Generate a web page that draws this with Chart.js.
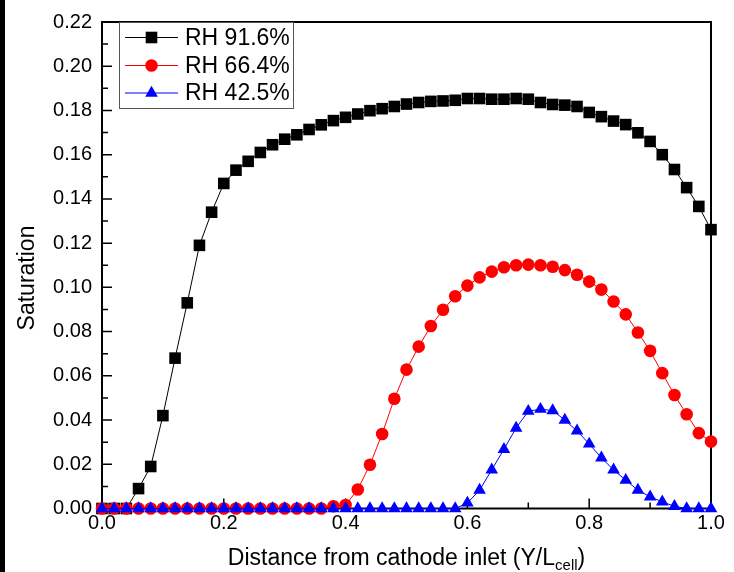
<!DOCTYPE html>
<html>
<head>
<meta charset="utf-8">
<script src="https://cdn.jsdelivr.net/npm/chart.js@4.4.1/dist/chart.umd.min.js"></script>
<style>
  html, body { margin: 0; padding: 0; background: #fff; }
  #wrap { position: relative; width: 734px; height: 572px; }
  #stripe { position: absolute; left: 0; top: 0; width: 5px; height: 572px; background: #000; }
</style>
</head>
<body>
<div id="wrap">
  <canvas id="chart" width="734" height="572"></canvas>
  <div id="stripe"></div>
</div>
<script>
// positions along the cell (Y/L_cell)
const xPos = [0.00, 0.02, 0.04, 0.06, 0.08, 0.10, 0.12, 0.14, 0.16, 0.18,
  0.20, 0.22, 0.24, 0.26, 0.28, 0.30, 0.32, 0.34, 0.36, 0.38,
  0.40, 0.42, 0.44, 0.46, 0.48, 0.50, 0.52, 0.54, 0.56, 0.58,
  0.60, 0.62, 0.64, 0.66, 0.68, 0.70, 0.72, 0.74, 0.76, 0.78,
  0.80, 0.82, 0.84, 0.86, 0.88, 0.90, 0.92, 0.94, 0.96, 0.98, 1.00];

const rh916 = [0, 0, 0, 0.009, 0.019, 0.042, 0.068, 0.093, 0.119, 0.134,
  0.147, 0.153, 0.157, 0.161, 0.1645, 0.167, 0.169, 0.1714, 0.1735, 0.1754,
  0.1769, 0.1784, 0.1799, 0.1808, 0.1818, 0.1829, 0.1836, 0.1841, 0.1843, 0.1846,
  0.1854, 0.1854, 0.1851, 0.1851, 0.1854, 0.1851, 0.1836, 0.1827, 0.1824, 0.1818,
  0.1791, 0.1772, 0.1752, 0.1736, 0.1699, 0.166, 0.16, 0.1533, 0.1451, 0.1366, 0.1261];

const rh664 = [0, 0, 0, 0, 0, 0, 0, 0, 0, 0,
  0, 0, 0, 0, 0, 0, 0, 0, 0, 0.001,
  0.0016, 0.0086, 0.0198, 0.0337, 0.0496, 0.0628, 0.0732, 0.0825, 0.0899, 0.096,
  0.1008, 0.1045, 0.1071, 0.1091, 0.110, 0.1103, 0.110, 0.1093, 0.1078, 0.1057,
  0.1026, 0.099, 0.0936, 0.0878, 0.0796, 0.0713, 0.0612, 0.0513, 0.0426, 0.0341, 0.0303];

const rh425 = [0, 0, 0, 0, 0, 0, 0, 0, 0, 0,
  0, 0, 0, 0, 0, 0, 0, 0, 0, 0,
  0, 0, 0, 0, 0, 0, 0, 0, 0, 0,
  0.0025, 0.0083, 0.0175, 0.0268, 0.0364, 0.044, 0.0449, 0.0443, 0.040, 0.0351,
  0.0292, 0.0229, 0.0175, 0.0128, 0.0083, 0.0053, 0.003, 0.001, 0, 0, 0];

const seriesNames = ['RH 91.6%', 'RH 66.4%', 'RH 42.5%'];

const xTicks = [0, 0.2, 0.4, 0.6, 0.8, 1.0];
const xMinorTicks = [0.1, 0.3, 0.5, 0.7, 0.9];
const yTicks = [0, 0.02, 0.04, 0.06, 0.08, 0.10, 0.12, 0.14, 0.16, 0.18, 0.20, 0.22];
const yMinorTicks = [0.01, 0.03, 0.05, 0.07, 0.09, 0.11, 0.13, 0.15, 0.17, 0.19, 0.21];

const FONT = '"Liberation Sans", Arial, sans-serif';

const toPoints = (vals) => vals.map((v, i) => ({ x: xPos[i], y: v }));

function drawMarker(ctx, style, x, y, r, color) {
  ctx.save();
  ctx.fillStyle = color;
  ctx.beginPath();
  if (style === 'rect') {
    const s = Math.SQRT1_2 * r;
    ctx.rect(x - s, y - s, 2 * s, 2 * s);
  } else if (style === 'triangle') {
    ctx.moveTo(x, y - r);
    ctx.lineTo(x + r * 0.866, y + r / 2);
    ctx.lineTo(x - r * 0.866, y + r / 2);
    ctx.closePath();
  } else {
    ctx.arc(x, y, r, 0, Math.PI * 2);
  }
  ctx.fill();
  ctx.restore();
}

// frame + inward ticks, drawn under the data
const framePlugin = {
  id: 'frame',
  beforeDatasetsDraw(chart) {
    const { ctx, chartArea: a, scales } = chart;
    ctx.save();
    ctx.strokeStyle = '#000';
    ctx.lineWidth = 2;
    ctx.strokeRect(a.left, a.top, a.right - a.left, a.bottom - a.top);

    ctx.lineWidth = 1.5;
    ctx.beginPath();
    xTicks.forEach(v => {
      const px = scales.x.getPixelForValue(v);
      ctx.moveTo(px, a.bottom);
      ctx.lineTo(px, a.bottom - 10);
    });
    xMinorTicks.forEach(v => {
      const px = scales.x.getPixelForValue(v);
      ctx.moveTo(px, a.bottom);
      ctx.lineTo(px, a.bottom - 6);
    });
    yTicks.forEach(v => {
      const py = scales.y.getPixelForValue(v);
      ctx.moveTo(a.left, py);
      ctx.lineTo(a.left + 10, py);
    });
    yMinorTicks.forEach(v => {
      const py = scales.y.getPixelForValue(v);
      ctx.moveTo(a.left, py);
      ctx.lineTo(a.left + 6, py);
    });
    ctx.stroke();
    ctx.restore();
  },
  afterDraw(chart) {
    const { ctx, chartArea: a } = chart;
    ctx.save();

    // legend box in the upper left corner of the plot
    ctx.fillStyle = '#fff';
    ctx.fillRect(119.5, 22.5, 174, 86);
    ctx.strokeStyle = '#555';
    ctx.lineWidth = 1;
    ctx.strokeRect(119.5, 22.5, 174, 86);
    const rows = [37.5, 65.5, 93];
    chart.data.datasets.forEach((ds, i) => {
      const y = rows[i];
      ctx.strokeStyle = ds.borderColor;
      ctx.lineWidth = 1;
      ctx.beginPath();
      ctx.moveTo(125, y);
      ctx.lineTo(178, y);
      ctx.stroke();
      drawMarker(ctx, ds.pointStyle, 151.5, y, ds.pointRadius, ds.pointBackgroundColor);
      ctx.fillStyle = '#000';
      ctx.font = '23px ' + FONT;
      ctx.textBaseline = 'middle';
      ctx.textAlign = 'left';
      ctx.fillText(ds.label, 185, y + 1);
    });

    // axis titles
    ctx.fillStyle = '#000';
    ctx.font = '23px ' + FONT;
    ctx.textBaseline = 'alphabetic';
    const main = 'Distance from cathode inlet (Y/L';
    const sub = 'cell';
    const close = ')';
    const wMain = ctx.measureText(main).width;
    ctx.font = '15px ' + FONT;
    const wSub = ctx.measureText(sub).width;
    ctx.font = '23px ' + FONT;
    const wClose = ctx.measureText(close).width;
    let x0 = (a.left + a.right) / 2 - (wMain + wSub + wClose) / 2;
    const base = 565;
    ctx.textAlign = 'left';
    ctx.fillText(main, x0, base);
    ctx.font = '15px ' + FONT;
    ctx.fillText(sub, x0 + wMain, base + 5);
    ctx.font = '23px ' + FONT;
    ctx.fillText(close, x0 + wMain + wSub, base);

    ctx.translate(28, 278);
    ctx.rotate(-Math.PI / 2);
    ctx.textAlign = 'center';
    ctx.textBaseline = 'middle';
    ctx.fillText('Saturation', 0, 0);
    ctx.restore();
  }
};

const ctx = document.getElementById('chart').getContext('2d');

new Chart(ctx, {
  type: 'line',
  data: {
    datasets: [
      {
        label: seriesNames[0],
        data: toPoints(rh916),
        borderColor: '#000000',
        pointBackgroundColor: '#000000',
        pointStyle: 'rect',
        pointRadius: 8.2,
        order: 3,
      },
      {
        label: seriesNames[1],
        data: toPoints(rh664),
        borderColor: '#ff0000',
        pointBackgroundColor: '#ff0000',
        pointStyle: 'circle',
        pointRadius: 6.3,
        order: 2,
      },
      {
        label: seriesNames[2],
        data: toPoints(rh425),
        borderColor: '#0000ff',
        pointBackgroundColor: '#0000ff',
        pointStyle: 'triangle',
        pointRadius: 7.3,
        order: 1,
      },
    ].map(ds => Object.assign(ds, {
      borderWidth: 1,
      pointBorderWidth: 0,
      pointHoverRadius: ds.pointRadius,
      tension: 0,
      fill: false,
      clip: false,
    })),
  },
  options: {
    responsive: false,
    animation: false,
    events: [],
    layout: { padding: { top: 17, right: 23, bottom: 0, left: 0 } },
    plugins: {
      legend: { display: false },
      tooltip: { enabled: false },
    },
    scales: {
      x: {
        type: 'linear',
        min: 0,
        max: 1,
        afterFit: (s) => { s.height = 63.5; },
        afterBuildTicks: (s) => { s.ticks = xTicks.map(v => ({ value: v })); },
        grid: { display: false, drawTicks: false },
        border: { display: false },
        ticks: {
          padding: 3,
          color: '#000',
          font: { family: FONT, size: 20 },
          callback: (v) => Number(v).toFixed(1),
        },
      },
      y: {
        type: 'linear',
        min: 0,
        max: 0.22,
        afterFit: (s) => { s.width = 102; },
        afterBuildTicks: (s) => { s.ticks = yTicks.map(v => ({ value: v })); },
        grid: { display: false, drawTicks: false },
        border: { display: false },
        ticks: {
          padding: 10,
          color: '#000',
          font: { family: FONT, size: 20 },
          callback: (v) => Number(v).toFixed(2),
        },
      },
    },
  },
  plugins: [framePlugin],
});
</script>
</body>
</html>
